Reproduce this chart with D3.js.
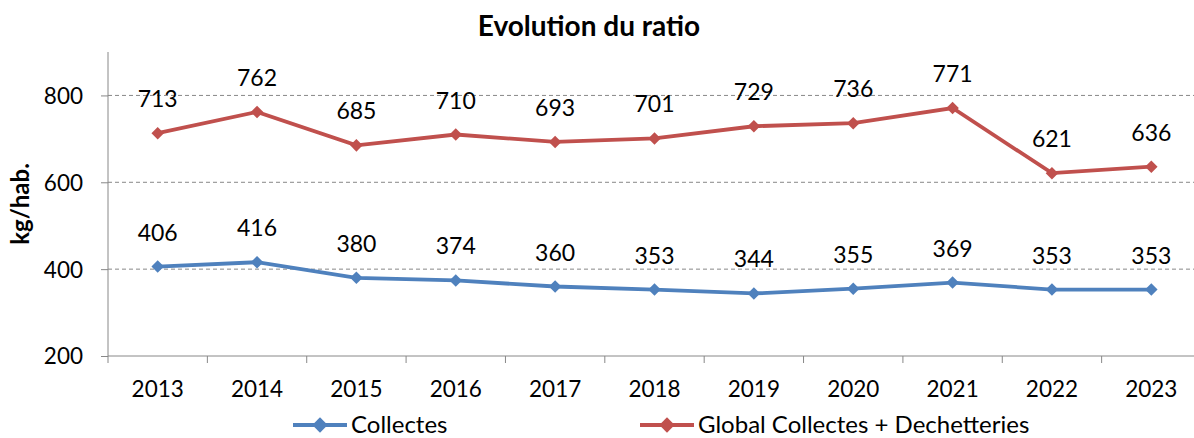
<!DOCTYPE html>
<html><head><meta charset="utf-8">
<script src="https://cdn.jsdelivr.net/npm/d3@7"></script>
<style>body{margin:0;background:#fff;}svg{display:block;font-family:Lato,"Open Sans",sans-serif;}</style>
</head><body>
<svg id="c" width="1194" height="438"></svg>
<script>
const years = ["2013","2014","2015","2016","2017","2018","2019","2020","2021","2022","2023"];
const collectes = [406,416,380,374,360,353,344,355,369,353,353];
const globalCD = [713,762,685,710,693,701,729,736,771,621,636];
const yTicks = [200,400,600,800];
const seriesNames = ["Collectes","Global Collectes + Dechetteries"];
const colors = ["#4F81BD","#C0504D"];

const svg = d3.select("#c");
const x = d3.scaleBand().domain(years).range([108,1201]);
const y = d3.scaleLinear().domain([200,900]).range([356,52]);

svg.append("text").attr("x",589).attr("y",36).attr("text-anchor","middle")
  .attr("font-weight","bold").attr("font-size",28).text("Evolution du ratio");

// gridlines
svg.append("g").selectAll("line").data(yTicks.slice(1)).join("line")
  .attr("x1",108).attr("x2",1194).attr("y1",d=>y(d)).attr("y2",d=>y(d))
  .attr("stroke","#888").attr("stroke-dasharray","4,3").attr("stroke-width",1);

// y axis
const ya = svg.append("g").attr("transform","translate(108,0)")
  .call(d3.axisLeft(y).tickValues(yTicks).tickSize(7).tickPadding(18));
ya.select(".domain").attr("stroke","#888").attr("d","M0,356V52");
ya.selectAll(".tick line").attr("stroke","#888");
ya.selectAll("text").attr("font-size",22.5).attr("fill","#000").attr("font-family","Lato,sans-serif").attr("dy","0.35em");

// x axis
const xa = svg.append("g").attr("transform","translate(0,356)")
  .call(d3.axisBottom(x).tickSize(0).tickPadding(0));
xa.select(".domain").attr("stroke","#888").attr("d","M108,0H1201");
xa.selectAll("text").attr("font-size",22.5).attr("fill","#000").attr("font-family","Lato,sans-serif")
  .attr("dy",0).attr("y",41);
svg.append("g").selectAll("line").data(d3.range(years.length+1)).join("line")
  .attr("x1",i=>108+i*x.step()).attr("x2",i=>108+i*x.step())
  .attr("y1",356).attr("y2",363).attr("stroke","#888");

svg.append("text").attr("transform","translate(29,204) rotate(-90)").attr("text-anchor","middle")
  .attr("font-weight","bold").attr("font-size",24).text("kg/hab.");

const cx = d => x(d)+x.bandwidth()/2;
const diamond = d3.symbol().type(d3.symbolDiamond2).size(100);
[collectes, globalCD].forEach((vals,si)=>{
  const pts = years.map((yr,i)=>[cx(yr), y(vals[i]), vals[i]]);
  svg.append("path").attr("d",d3.line()(pts.map(p=>[p[0],p[1]])))
    .attr("fill","none").attr("stroke",colors[si]).attr("stroke-width",3.8);
  svg.append("g").selectAll("path").data(pts).join("path")
    .attr("d",diamond).attr("transform",p=>`translate(${p[0]},${p[1]})`).attr("fill",colors[si]);
  svg.append("g").selectAll("text").data(pts).join("text")
    .attr("x",p=>p[0]).attr("y",p=>p[1]-26).attr("text-anchor","middle")
    .attr("font-size",23).text(p=>p[2]);
});

// legend
const leg = [[293,351],[640,698]];
seriesNames.forEach((n,i)=>{
  const g = svg.append("g");
  g.append("line").attr("x1",leg[i][0]).attr("x2",leg[i][0]+54).attr("y1",425).attr("y2",425)
   .attr("stroke",colors[i]).attr("stroke-width",3.8);
  g.append("path").attr("d",d3.symbol().type(d3.symbolDiamond2).size(150)).attr("transform",`translate(${leg[i][0]+27},425)`).attr("fill",colors[i]);
  g.append("text").attr("x",leg[i][1]).attr("y",425).attr("dy","0.35em").attr("font-size",24).text(n);
});
</script>
</body></html>
